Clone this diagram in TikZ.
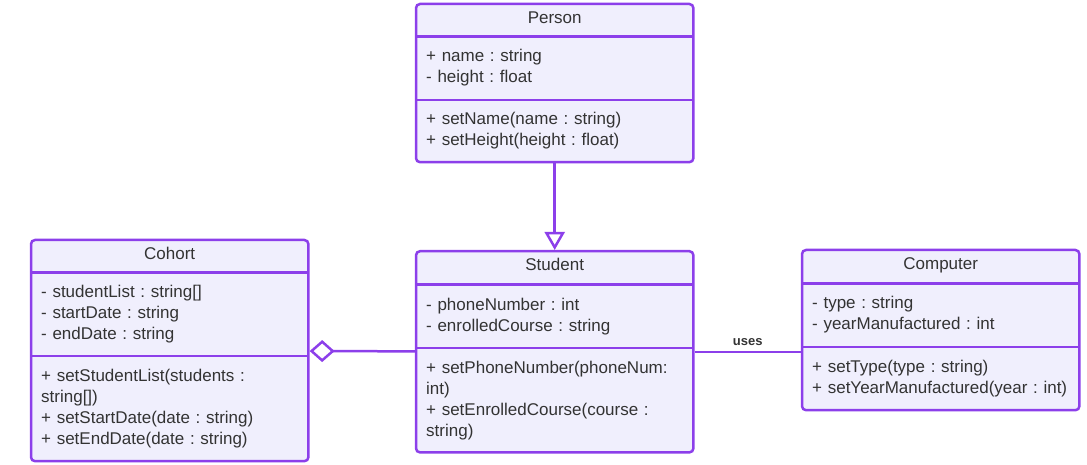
\documentclass[tikz,border=0pt]{standalone}
\usepackage{fontspec}
\setmainfont{Liberation Sans}
\frenchspacing
\usetikzlibrary{arrows.meta,positioning,fit,backgrounds}
\definecolor{UmlPurple}{HTML}{8C3FEA}
\definecolor{UmlFill}{HTML}{F0EFFD}
\definecolor{UmlText}{HTML}{333333}
\tikzset{
    % Class boxes
    class frame/.style={
        draw=UmlPurple,
        line width=2.5pt,
        fill=UmlFill,
        rounded corners=4pt,
        inner sep=0pt
    },
    class part/.style={
        minimum width=277pt,
        text width=257pt,
        inner xsep=10pt,
        inner ysep=0pt,
        align=left,
        text=UmlText,
        font={\fontsize{17}{21}\selectfont}
    },
    class title/.style={
        class part,
        align=center,
        text height=12pt,
        text depth=6pt
    },
    divider/.style={
        draw=UmlPurple,
        line width=2.5pt
    },
    arrow/.style={
        draw=UmlPurple,
        line width=2.5pt
    },
    link label/.style={
        text=UmlText,
        font={\fontsize{13}{15}\selectfont\bfseries}
    }
}
\begin{document}
\begin{tikzpicture}[x=1pt, y=-1pt]
        \useasboundingbox (0,0) rectangle (1087,465);

        % Person
        \node[class title, minimum height=32pt, anchor=north west] (person title) at (416,4) {Person};
        \node[class part, minimum height=63pt, below=0pt of person title] (person attrs)
              {+ name : string\\- height : float};
        \node[class part, minimum height=62pt, below=0pt of person attrs] (person methods)
              {+ setName(name : string)\\+ setHeight(height : float)};

        % Student
        \node[class title, minimum height=33pt, below=89pt of person methods] (student title) {Student};
        \node[class part, minimum height=63pt, below=0pt of student title] (student attrs)
              {- phoneNumber : int\\- enrolledCourse : string};
        \node[class part, minimum height=104pt, below=0pt of student attrs] (student methods)
              {+ setPhoneNumber(phoneNum:\\int)\\+ setEnrolledCourse(course :\\string)};

        % Cohort
        \node[class title, minimum height=32pt, anchor=north west] (cohort title) at (31,240) {Cohort};
        \node[class part, minimum height=83pt, below=0pt of cohort title] (cohort attrs)
              {- studentList : string[]\\- startDate : string\\- endDate : string};
        \node[class part, minimum height=105pt, below=0pt of cohort attrs] (cohort methods)
              {+ setStudentList(students :\\string[])\\+ setStartDate(date : string)\\+ setEndDate(date : string)};

        % Computer
        \node[class title, minimum height=33pt, anchor=north west] (computer title) at (802,250) {Computer};
        \node[class part, minimum height=63pt, below=0pt of computer title] (computer attrs)
              {- type : string\\- yearManufactured : int};
        \node[class part, minimum height=63pt, below=0pt of computer attrs] (computer methods)
              {+ setType(type : string)\\+ setYearManufactured(year : int)};

        % Frames and dividers
        \begin{scope}[on background layer]
            \node[class frame, fit=(person title)(person methods)] (person) {};
            \node[class frame, fit=(student title)(student methods)] (student) {};
            \node[class frame, fit=(cohort title)(cohort methods)] (cohort) {};
            \node[class frame, fit=(computer title)(computer methods)] (computer) {};
        \end{scope}
        \draw[divider] (person title.south west) -- (person title.south east);
        \draw[divider] (person attrs.south west) -- (person attrs.south east);
        \draw[divider] (student title.south west) -- (student title.south east);
        \draw[divider] (student attrs.south west) -- (student attrs.south east);
        \draw[divider] (cohort title.south west) -- (cohort title.south east);
        \draw[divider] (cohort attrs.south west) -- (cohort attrs.south east);
        \draw[divider] (computer title.south west) -- (computer title.south east);
        \draw[divider] (computer attrs.south west) -- (computer attrs.south east);

        % Relations
        \draw[arrow, -{Triangle[open, length=18pt, width=20pt]}] (person) -- (student);
        \draw[arrow, {Diamond[open, length=25pt, width=22pt]}-] (cohort) -- (student);
        \draw[arrow] (student.east) -- (student.east -| computer.west)
              node[link label, midway, above=2pt] {uses};
    \end{tikzpicture}
\end{document}
